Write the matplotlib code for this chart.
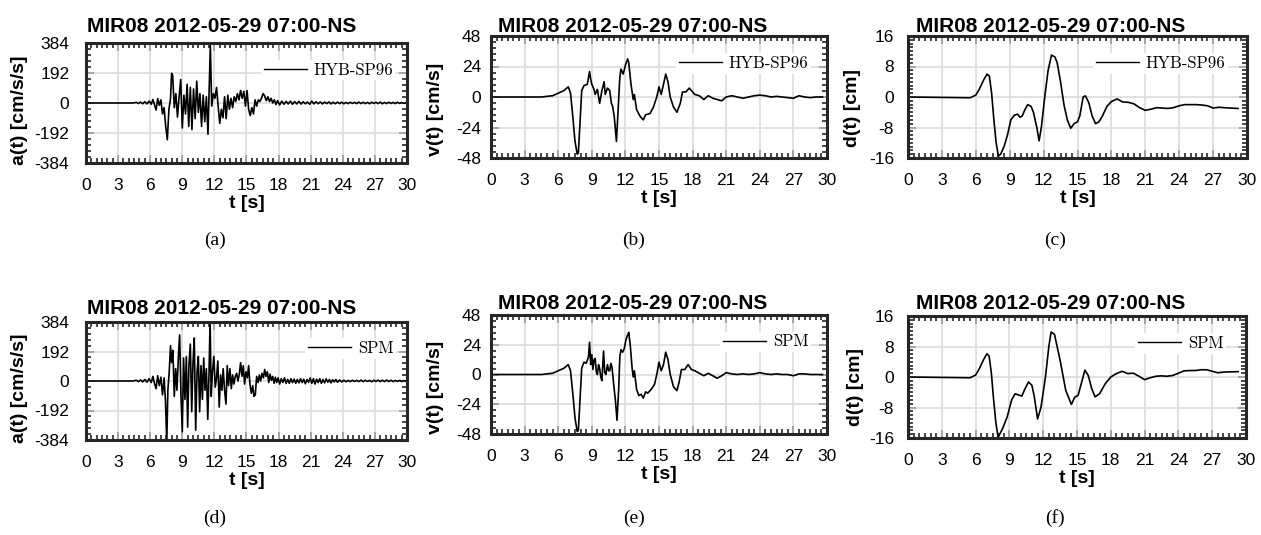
import numpy as np
import matplotlib
matplotlib.use('Agg')
import matplotlib.pyplot as plt
from matplotlib.ticker import MultipleLocator

plt.rcParams['font.family'] = ['Liberation Sans', 'DejaVu Sans']
plt.rcParams['axes.unicode_minus'] = False

title = 'MIR08 2012-05-29 07:00-NS'

# acceleration, HYB-SP96 (cm/s/s)
t_acc_hyb = [0.0, 4.4, 4.7, 4.9, 5.1, 5.3, 5.5, 5.7, 5.9, 6.1,
             6.25, 6.4, 6.55, 6.7, 6.85, 7.0, 7.15, 7.3, 7.45, 7.6,
             7.75, 7.9, 8.0, 8.1, 8.25, 8.4, 8.55, 8.7, 8.85, 9.0,
             9.15, 9.3, 9.45, 9.6, 9.75, 9.9, 10.05, 10.2, 10.35, 10.5,
             10.65, 10.8, 10.95, 11.1, 11.25, 11.4, 11.52, 11.62, 11.75, 11.9,
             12.05, 12.2, 12.35, 12.5, 12.65, 12.8, 12.95, 13.1, 13.25, 13.4,
             13.55, 13.7, 13.85, 14.0, 14.15, 14.3, 14.45, 14.6, 14.75, 14.9,
             15.05, 15.2, 15.35, 15.5, 15.65, 15.8, 15.95, 16.1, 16.25, 16.4,
             16.55, 16.7, 16.85, 17.0, 17.15, 17.3, 17.45, 17.6, 17.75, 17.9,
             18.1, 18.3, 18.5, 18.7, 18.9, 19.1, 19.3, 19.5, 19.7, 19.9,
             20.1, 20.3, 20.5, 20.7, 20.9, 21.1, 21.3, 21.5, 21.7, 21.9,
             22.1, 22.3, 22.5, 22.7, 22.9, 23.1, 23.3, 23.5, 23.7, 23.9,
             24.1, 24.3, 24.5, 24.7, 24.9, 25.1, 25.3, 25.5, 25.7, 25.9,
             26.1, 26.3, 26.5, 26.7, 26.9, 27.1, 27.3, 27.5, 27.7, 27.9,
             28.1, 28.3, 28.5, 28.7, 28.9, 29.1, 29.3, 29.5, 29.7, 29.85]
acc_hyb = [0, 0, 4, -3, 6, -5, 8, -6, 12, -8,
           22, -10, -45, 28, -15, 20, -70, -30, -150, -235,
           -40, 30, 190, 175, -30, 60, -90, 40, 150, -160,
           50, -70, 120, -150, 100, -170, 90, -100, 140, -60,
           60, -150, 50, -120, 40, -200, 120, 370, -20, 60,
           30, 100, -20, -130, -40, -95, 40, -100, 50, -40,
           30, -30, 40, 10, 60, 20, 80, 30, 75, -20,
           80, -40, -80, -30, -70, 20, -20, 20, 10, 30,
           60, 45, 15, 40, 10, 30, 0, 20, -10, 15,
           -12, 12, -8, 10, -6, 12, -8, 9, -6, 10,
           -7, 8, -5, 6, -8, 12, -6, 8, -5, 7,
           -6, 6, -4, 7, -6, 5, -5, 6, -4, 5,
           -5, 4, -4, 5, -3, 4, -4, 6, -4, 5,
           -4, 4, -5, 5, -3, 5, -4, 6, -5, 4,
           -4, 5, -3, 4, -4, 5, -3, 3, -2, 0]

# acceleration, SPM (cm/s/s)
t_acc_spm = [0.0, 4.4, 4.7, 4.9, 5.1, 5.3, 5.5, 5.7, 5.9, 6.1,
             6.25, 6.4, 6.55, 6.7, 6.85, 7.0, 7.15, 7.3, 7.42, 7.55,
             7.65, 7.78, 7.9, 8.0, 8.12, 8.25, 8.38, 8.5, 8.62, 8.75,
             8.88, 9.0, 9.12, 9.25, 9.38, 9.5, 9.62, 9.75, 9.88, 10.0,
             10.12, 10.25, 10.38, 10.5, 10.62, 10.75, 10.88, 11.0, 11.12, 11.25,
             11.38, 11.5, 11.6, 11.7, 11.82, 11.95, 12.08, 12.2, 12.32, 12.45,
             12.58, 12.7, 12.82, 12.95, 13.08, 13.2, 13.32, 13.45, 13.58, 13.7,
             13.82, 13.95, 14.08, 14.2, 14.32, 14.45, 14.58, 14.7, 14.82, 14.95,
             15.08, 15.2, 15.32, 15.45, 15.58, 15.7, 15.82, 15.95, 16.08, 16.2,
             16.32, 16.45, 16.58, 16.7, 16.82, 16.95, 17.08, 17.2, 17.32, 17.45,
             17.58, 17.7, 17.82, 17.95, 18.1, 18.25, 18.4, 18.55, 18.7, 18.85,
             19.0, 19.15, 19.3, 19.45, 19.6, 19.75, 19.9, 20.05, 20.2, 20.35,
             20.5, 20.65, 20.8, 20.95, 21.1, 21.25, 21.4, 21.55, 21.7, 21.85,
             22.0, 22.15, 22.3, 22.45, 22.6, 22.75, 22.9, 23.05, 23.2, 23.35,
             23.5, 23.7, 23.9, 24.1, 24.3, 24.5, 24.7, 24.9, 25.1, 25.3,
             25.5, 25.7, 25.9, 26.1, 26.3, 26.5, 26.7, 26.9, 27.1, 27.3,
             27.5, 27.7, 27.9, 28.1, 28.3, 28.5, 28.7, 28.9, 29.1, 29.3,
             29.5, 29.7, 29.85]
acc_spm = [0, 0, 5, -4, 7, -6, 10, -8, 15, -10,
           30, -15, -50, 35, -30, 25, -90, 20, -120, -400,
           -60, 60, 230, 120, 200, -100, 80, -60, 140, 300,
           -100, -330, 150, -120, 160, -300, 100, 240, -200, 120,
           280, -320, 60, 160, -200, 100, -120, 150, -60, 80,
           -250, 60, 400, -100, 60, 160, -40, 20, 130, -170,
           40, -60, 80, -60, -150, 100, -30, 80, -50, 40,
           -20, 30, 50, 0, 40, 120, 30, 100, -20, 60,
           20, 100, -20, -80, -30, -100, -90, 30, -10, 40,
           0, 50, 20, 75, 30, 60, -10, 45, 5, 30,
           -15, 25, -10, 20, -20, 15, -10, 20, -15, 10,
           -15, 15, -10, 12, -15, 10, -12, 15, -10, 12,
           -18, 10, -8, 20, -15, 15, -20, 12, -10, 15,
           -15, 10, -12, 14, -8, 10, -12, 8, -6, 10,
           -8, 7, -6, 5, -5, 4, -4, 5, -3, 4,
           -4, 6, -4, 5, -3, 4, -5, 5, -3, 6,
           -4, 5, -4, 6, -3, 5, -4, 4, -3, 4,
           -3, 2, 0]

# velocity (cm/s)
t_vel_hyb = [0, 4.5, 5.5, 6.0, 6.5, 6.9, 7.1, 7.3, 7.5, 7.7,
             7.8, 7.95, 8.1, 8.3, 8.6, 8.8, 8.9, 9.0, 9.2, 9.3,
             9.5, 9.7, 9.9, 10.1, 10.2, 10.4, 10.6, 10.75, 10.85, 11.0,
             11.2, 11.35, 11.5, 11.6, 11.8, 12.0, 12.2, 12.3, 12.5, 12.7,
             12.8, 13.0, 13.3, 13.6, 13.8, 14.2, 14.5, 14.8, 15.0, 15.2,
             15.4, 15.6, 15.8, 16.0, 16.3, 16.6, 16.9, 17.1, 17.4, 17.7,
             17.9, 18.2, 18.6, 19.0, 19.4, 19.8, 20.2, 20.6, 21.0, 21.5,
             22.0, 22.5, 23.0, 23.5, 24.0, 24.5, 25.0, 25.5, 26.0, 26.5,
             27.0, 27.5, 28.0, 28.5, 29.0, 29.6]
vel_hyb = [0, 0, 1, 3, 5, 8, 3, -15, -35, -45,
           -44, -20, 5, 9, 10, 20, 14, 10, 6, 2,
           6, -5, 5, 12, 2, 7, 5, -5, -7, -15,
           -35, -10, 15, 22, 18, 25, 30, 27, 10, -2,
           2, -10, -15, -18, -14, -13, -8, 0, 8, 2,
           10, 18, 12, 0, -8, -12, -5, 4, 4, 7,
           5, 2, 1, -2, 1, -1, -2, -3, 0, 1,
           0, -1, 0, 1, 1.5, 1, 0, 0.5, 0, -0.5,
           -1, 1, 0, -0.5, 0, 0]

t_vel_spm = [0, 4.5, 5.5, 6.0, 6.5, 6.9, 7.1, 7.3, 7.5, 7.7,
             7.8, 7.95, 8.1, 8.3, 8.5, 8.7, 8.8, 8.9, 9.0, 9.1,
             9.2, 9.3, 9.4, 9.5, 9.6, 9.7, 9.8, 9.9, 10.05, 10.15,
             10.25, 10.4, 10.5, 10.6, 10.7, 10.8, 10.9, 11.0, 11.1, 11.25,
             11.4, 11.5, 11.6, 11.75, 11.9, 12.05, 12.2, 12.3, 12.45, 12.6,
             12.7, 12.8, 13.0, 13.2, 13.4, 13.6, 13.8, 14.0, 14.3, 14.6,
             14.8, 15.0, 15.2, 15.4, 15.6, 15.8, 16.0, 16.3, 16.6, 16.8,
             17.0, 17.3, 17.6, 17.9, 18.2, 18.6, 19.0, 19.4, 19.8, 20.2,
             20.6, 21.0, 21.5, 22.0, 22.5, 23.0, 23.5, 24.0, 24.5, 25.0,
             25.5, 26.0, 26.5, 27.0, 27.5, 28.0, 28.5, 29.0, 29.6]
vel_spm = [0, 0, 1, 3, 5, 8, 3, -15, -35, -46,
           -45, -20, 5, 10, 9, 14, 26, 8, 16, 4,
           12, 13, 2, 0, 8, 5, -2, -5, 19, 2,
           0, 8, 3, 3, 9, 6, -3, -12, -20, -37,
           -12, 14, 20, 18, 21, 28, 32, 34, 22, 5,
           -2, 3, -12, -17, -16, -19, -14, -15, -12, -8,
           0, 10, 3, 8, 18, 12, 0, -10, -13, -6,
           4, 4, 8, 4, 3, 1, -1, 1, -1, -3,
           -1, 1.5, 0.5, 0, 0.5, 0, 0.5, 1.5, 0.5, 0,
           0.5, 0, 0, -1, 0.5, 0.5, 0, 0, 0]

# displacement (cm)
t_dis_hyb = [0, 5.5, 6.0, 6.3, 6.7, 7.0, 7.2, 7.4, 7.6, 7.8,
             8.0, 8.2, 8.5, 8.8, 9.1, 9.4, 9.7, 9.9, 10.1, 10.4,
             10.6, 10.9, 11.1, 11.4, 11.6, 11.8, 12.1, 12.4, 12.7, 13.0,
             13.2, 13.5, 13.8, 14.1, 14.4, 14.7, 15.0, 15.2, 15.5, 15.7,
             16.0, 16.3, 16.6, 16.9, 17.2, 17.6, 18.0, 18.5, 19.0, 19.5,
             20.0, 20.5, 21.0, 21.5, 22.0, 22.5, 23.0, 23.5, 24.0, 24.5,
             25.0, 25.5, 26.0, 26.5, 27.0, 27.5, 28.0, 28.5, 29.2]
dis_hyb = [0, -0.2, 0.5, 2, 4.5, 6, 5.5, 1, -6, -12,
           -15.5, -15, -13, -10, -6, -4.8, -4.5, -5.3, -5, -3,
           -2, -2.5, -4, -8, -11.5, -8, 0, 7, 11, 10.5,
           9, 4, -2, -6, -8.2, -7, -6.5, -5, 0, 0.3,
           -1.5, -5, -7, -6.5, -5, -2.5, -1.2, -0.5, -1.3, -1.4,
           -1.8, -2.8, -3.5, -3.2, -2.8, -2.9, -3.0, -2.8, -2.3, -2.0,
           -2.0, -2.0, -2.1, -2.3, -2.9, -2.7, -2.8, -2.9, -3.0]

t_dis_spm = [0, 5.5, 6.0, 6.3, 6.7, 7.0, 7.2, 7.4, 7.6, 7.8,
             8.0, 8.4, 8.8, 9.2, 9.5, 9.9, 10.1, 10.4, 10.7, 11.0,
             11.2, 11.5, 11.8, 12.2, 12.5, 12.7, 13.0, 13.5, 14.0, 14.5,
             14.8, 15.1, 15.5, 15.7, 16.0, 16.3, 16.6, 17.0, 17.5, 18.0,
             18.5, 19.0, 19.5, 20.0, 20.5, 21.0, 21.5, 22.0, 22.5, 23.0,
             23.5, 24.0, 24.5, 25.0, 25.5, 26.0, 26.5, 27.0, 27.5, 28.0,
             29.3]
dis_spm = [0, -0.2, 0.5, 2, 4.5, 6.1, 5.5, 1, -6, -12,
           -15.8, -13.5, -10.5, -6, -4.4, -4.8, -5, -3, -1.3, -2.2,
           -5, -11, -8, 0, 8, 11.8, 11.2, 4.4, -3.5, -7.2,
           -5.3, -4.8, -0.4, 1.8, 0.4, -3, -5.2, -4.4, -1.8, 0,
           0.9, 1.5, 0.9, 1.0, 0.2, -0.7, -0.2, 0.2, 0.3, 0.2,
           0.4, 1.0, 1.6, 1.7, 1.7, 1.9, 1.9, 1.5, 1.1, 1.3,
           1.4]

fig = plt.figure(figsize=(12.61, 5.35), dpi=100)
W, H = 1261.0, 535.0


def panel(box, lim, minor_y, ylabel, name, t, y, ypad, tpad, ylab_xy, leg_gap):
    l, r, top, bot = box
    ax = fig.add_axes([l / W, 1 - bot / H, (r - l) / W, (bot - top) / H])
    ax.plot(t, y, color='black', lw=1.2, label=name)
    ax.set_xlim(0, 30)
    ax.set_ylim(-lim, lim)
    ax.set_xticks(np.arange(0, 31, 3))
    yt = [-lim, -lim // 2, 0, lim // 2, lim]
    ax.set_yticks(yt)
    ax.set_yticklabels([str(v) for v in yt])
    ax.xaxis.set_minor_locator(MultipleLocator(0.5))
    ax.yaxis.set_minor_locator(MultipleLocator(minor_y))
    ax.grid(True, color='#dedede', lw=1.3)
    ax.set_axisbelow(True)
    ax.tick_params(which='both', direction='in', top=True, right=True)
    ax.tick_params(which='major', length=6, width=1.2, color='#9a9a9a',
                   labelsize=12.5)
    ax.tick_params(axis='x', which='major', pad=11)
    ax.tick_params(axis='y', which='major', pad=ypad)
    ax.tick_params(which='minor', length=3.5, width=1.2, color='#262626')
    for s in ax.spines.values():
        s.set_linewidth(2.2)
        s.set_color('#262626')
    ax.set_xlabel('t [s]', fontsize=14, fontweight='bold', labelpad=1)
    ax.set_ylabel(ylabel, fontsize=14, fontweight='bold')
    ax.yaxis.set_label_coords(ylab_xy[0], ylab_xy[1])
    ax.set_title(title, fontsize=15, fontweight='bold', x=0.422, pad=tpad)
    ax_w = r - l
    leg = ax.legend(loc='center right',
                    bbox_to_anchor=(1 - (leg_gap - 3) / ax_w, 0.775),
                    borderaxespad=0, frameon=True, fancybox=False,
                    handlelength=2.6, handletextpad=0.4, borderpad=0.15,
                    prop={'family': 'cmr10', 'size': 12})
    leg.get_frame().set_facecolor('white')
    leg.get_frame().set_edgecolor('none')
    leg.get_frame().set_alpha(1)
    for ln in leg.get_lines():
        ln.set_linewidth(1.0)
    return ax


panel((86, 407, 43, 163), 384, 38.4, 'a(t) [cm/s/s]', 'HYB-SP96',
      t_acc_hyb, acc_hyb, 12, 8, (-0.181, 0.44), 14)
panel((491, 827, 36, 158), 48, 4.8, 'v(t) [cm/s]', 'HYB-SP96',
      t_vel_hyb, vel_hyb, 7, 3, (-0.140, 0.40), 19)
panel((908, 1247, 36, 158), 16, 1, 'd(t) [cm]', 'HYB-SP96',
      t_dis_hyb, dis_hyb, 10, 3, (-0.139, 0.41), 22)
panel((86, 407, 322, 440), 384, 38.4, 'a(t) [cm/s/s]', 'SPM',
      t_acc_spm, acc_spm, 12, 5.8, (-0.181, 0.436), 14)
panel((491, 827, 315, 434), 48, 4.8, 'v(t) [cm/s]', 'SPM',
      t_vel_spm, vel_spm, 7, 4.3, (-0.140, 0.39), 19)
panel((908, 1246, 316, 438), 16, 1, 'd(t) [cm]', 'SPM',
      t_dis_spm, dis_spm, 10, 5, (-0.130, 0.42), 23)

for lab, x, y in [('(a)', 215, 240), ('(b)', 634, 240), ('(c)', 1055, 240),
                  ('(d)', 215, 518), ('(e)', 634, 518), ('(f)', 1055, 518)]:
    fig.text(x / W, 1 - y / H, lab, ha='center', va='center',
             fontsize=14, family='Liberation Serif')

fig.savefig('out.png', dpi=100, facecolor='white')
